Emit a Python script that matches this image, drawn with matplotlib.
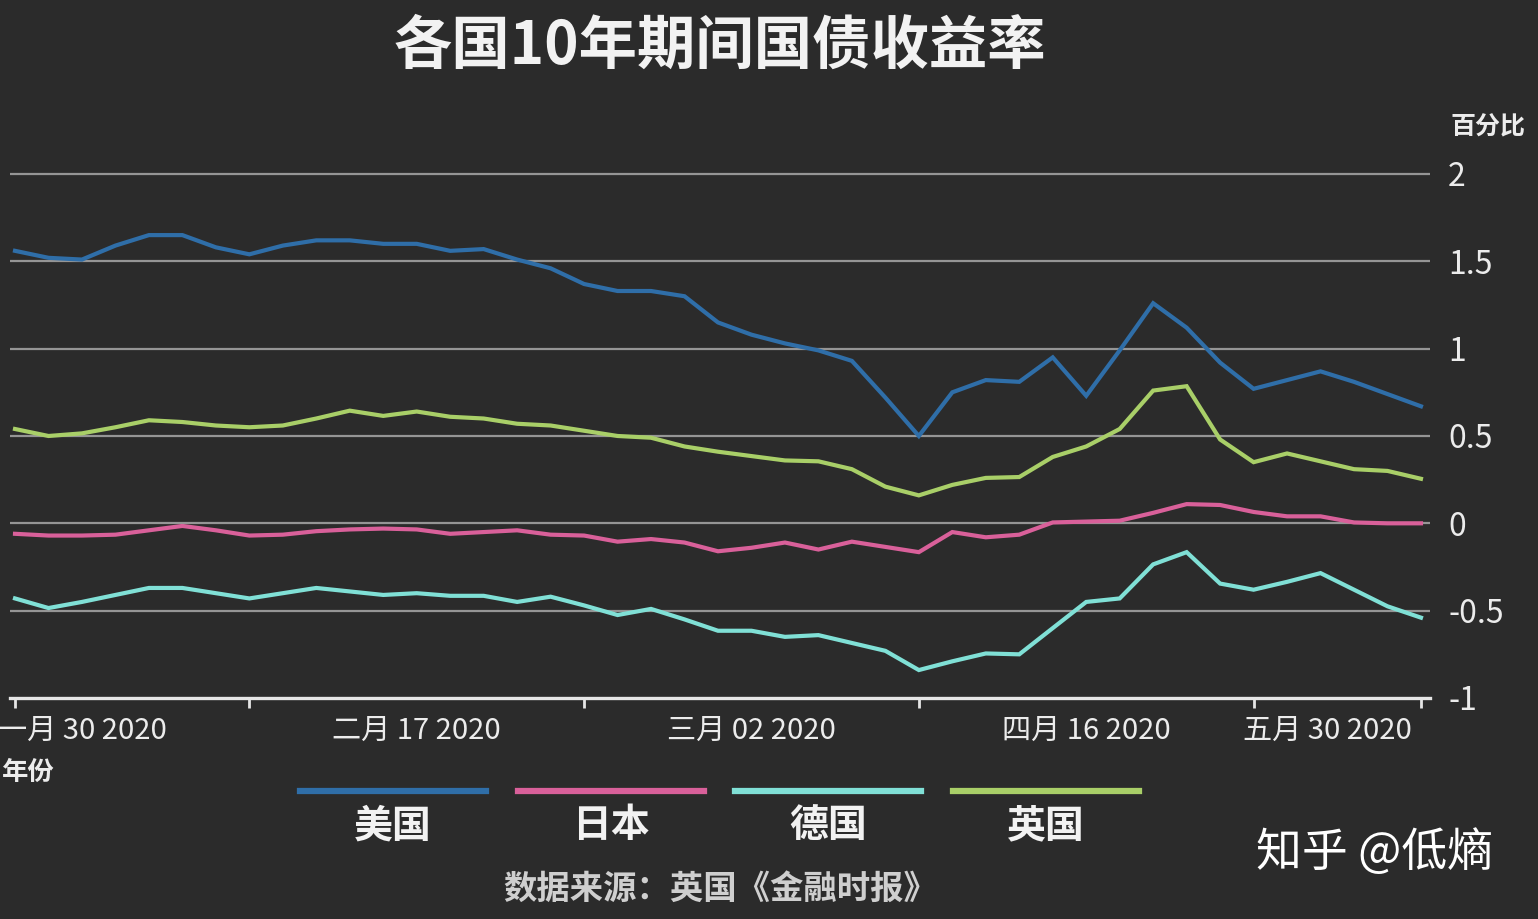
import matplotlib
matplotlib.use("Agg")
import matplotlib.pyplot as plt
from matplotlib.lines import Line2D

plt.rcParams['font.family'] = ['Noto Sans CJK SC', 'DejaVu Sans']

# 10-year government bond yields, one value per sample step
us = [1.56, 1.52, 1.51, 1.59, 1.65, 1.65, 1.58, 1.54, 1.59, 1.62, 1.62, 1.60, 1.60, 1.56, 1.57,
      1.51, 1.46, 1.37, 1.33, 1.33, 1.30, 1.15, 1.08, 1.03, 0.99, 0.93, 0.72, 0.50, 0.75, 0.82,
      0.81, 0.95, 0.73, 0.99, 1.26, 1.12, 0.92, 0.77, 0.82, 0.87, 0.81, 0.74, 0.67]
japan = [-0.06, -0.07, -0.07, -0.065, -0.04, -0.015, -0.04, -0.07, -0.065, -0.045, -0.035, -0.03,
         -0.035, -0.06, -0.05, -0.04, -0.065, -0.07, -0.105, -0.09, -0.11, -0.16, -0.14, -0.11,
         -0.15, -0.105, -0.135, -0.165, -0.05, -0.08, -0.065, 0.005, 0.01, 0.015, 0.06, 0.11,
         0.105, 0.065, 0.04, 0.04, 0.005, 0.0, 0.0]
germany = [-0.43, -0.485, -0.45, -0.41, -0.37, -0.37, -0.40, -0.43, -0.40, -0.37, -0.39, -0.41,
           -0.40, -0.415, -0.415, -0.45, -0.42, -0.47, -0.525, -0.49, -0.55, -0.615, -0.615,
           -0.65, -0.64, -0.685, -0.73, -0.84, -0.79, -0.745, -0.75, -0.60, -0.45, -0.43,
           -0.235, -0.165, -0.345, -0.38, -0.335, -0.285, -0.38, -0.475, -0.54]
uk = [0.54, 0.50, 0.515, 0.55, 0.59, 0.58, 0.56, 0.55, 0.56, 0.60, 0.645, 0.615, 0.64, 0.61, 0.60,
      0.57, 0.56, 0.53, 0.50, 0.49, 0.44, 0.41, 0.385, 0.36, 0.355, 0.31, 0.21, 0.16, 0.22, 0.26,
      0.265, 0.38, 0.44, 0.54, 0.76, 0.785, 0.48, 0.35, 0.40, 0.355, 0.31, 0.30, 0.255]

names = ['美国', '日本', '德国', '英国']
colors = ['#2f6ea8', '#d9609a', '#80e0d6', '#a9cf68']

tick_marks = [0, 2, 7, 12, 17, 22, 27, 32, 37, 42]
label_pos = [2, 12, 22, 32, 39.2]
label_txt = ['一月 30 2020', '二月 17 2020', '三月 02 2020', '四月 16 2020', '五月 30 2020']
y_ticks = [2, 1.5, 1, 0.5, 0, -0.5, -1]
y_labels = ['2', '1.5', '1', '0.5', '0', '-0.5', '-1']

bg = '#2b2b2b'
fig = plt.figure(figsize=(15.38, 9.19), dpi=100, facecolor=bg)
ax = fig.add_axes([10 / 1538, 1 - 698 / 919, 1420 / 1538, (698 - 156.5) / 919])
ax.set_facecolor(bg)

x = list(range(len(us)))
for series, c in zip([us, japan, germany, uk], colors):
    ax.plot(x, series, color=c, lw=3.0, solid_joinstyle='miter', zorder=3)

ax.set_xlim(-0.15, 42.27)
ax.set_ylim(-1, 2.1)

for yv in y_ticks[:-1]:
    ax.axhline(yv, color='#959595', lw=1.6, zorder=1)

for s in ['top', 'left', 'right']:
    ax.spines[s].set_visible(False)
ax.spines['bottom'].set_color('#e6e6e6')
ax.spines['bottom'].set_linewidth(2.4)

ax.set_xticks(label_pos)
ax.set_xticklabels(label_txt, fontsize=21, fontweight='medium', color='#ececec')
ax.set_xticks(tick_marks, minor=True)
ax.tick_params(axis='x', which='major', length=0, pad=13)
ax.tick_params(axis='x', which='minor', length=7, width=2, color='#e6e6e6')

ax.yaxis.tick_right()
ax.set_yticks(y_ticks)
ax.set_yticklabels(y_labels, fontsize=23, color='#ececec')
ax.tick_params(axis='y', length=0, pad=13)

fig.text(720 / 1538, 1 - 47 / 919, '各国10年期间国债收益率', ha='center', va='center',
         fontsize=42, fontweight='bold', color='#f2f2f2')
fig.text(1450 / 1538, 1 - 127 / 919, '百分比', ha='left', va='center',
         fontsize=18, fontweight='bold', color='#ececec')
fig.text(2 / 1538, 1 - 772 / 919, '年份', ha='left', va='center',
         fontsize=19, fontweight='bold', color='#ececec')

# legend drawn by hand: line on top, name underneath
leg_left = [300, 518, 735, 953]
for left, c, n in zip(leg_left, colors, names):
    fig.add_artist(Line2D([left / 1538, (left + 186) / 1538], [1 - 791 / 919] * 2,
                          color=c, lw=4.5, transform=fig.transFigure))
    fig.text((left + 93) / 1538, 1 - 826 / 919, n, ha='center', va='center',
             fontsize=28, fontweight='bold', color='#f2f2f2')

fig.text(720 / 1538, 1 - 889 / 919, '数据来源：英国《金融时报》', ha='center', va='center',
         fontsize=24, fontweight='bold', color='#cfcfcf')
fig.text(1375 / 1538, 1 - 853 / 919, '知乎 @低熵', ha='center', va='center',
         fontsize=33, color='#ffffff')

fig.savefig('out.png', dpi=100, facecolor=bg)
